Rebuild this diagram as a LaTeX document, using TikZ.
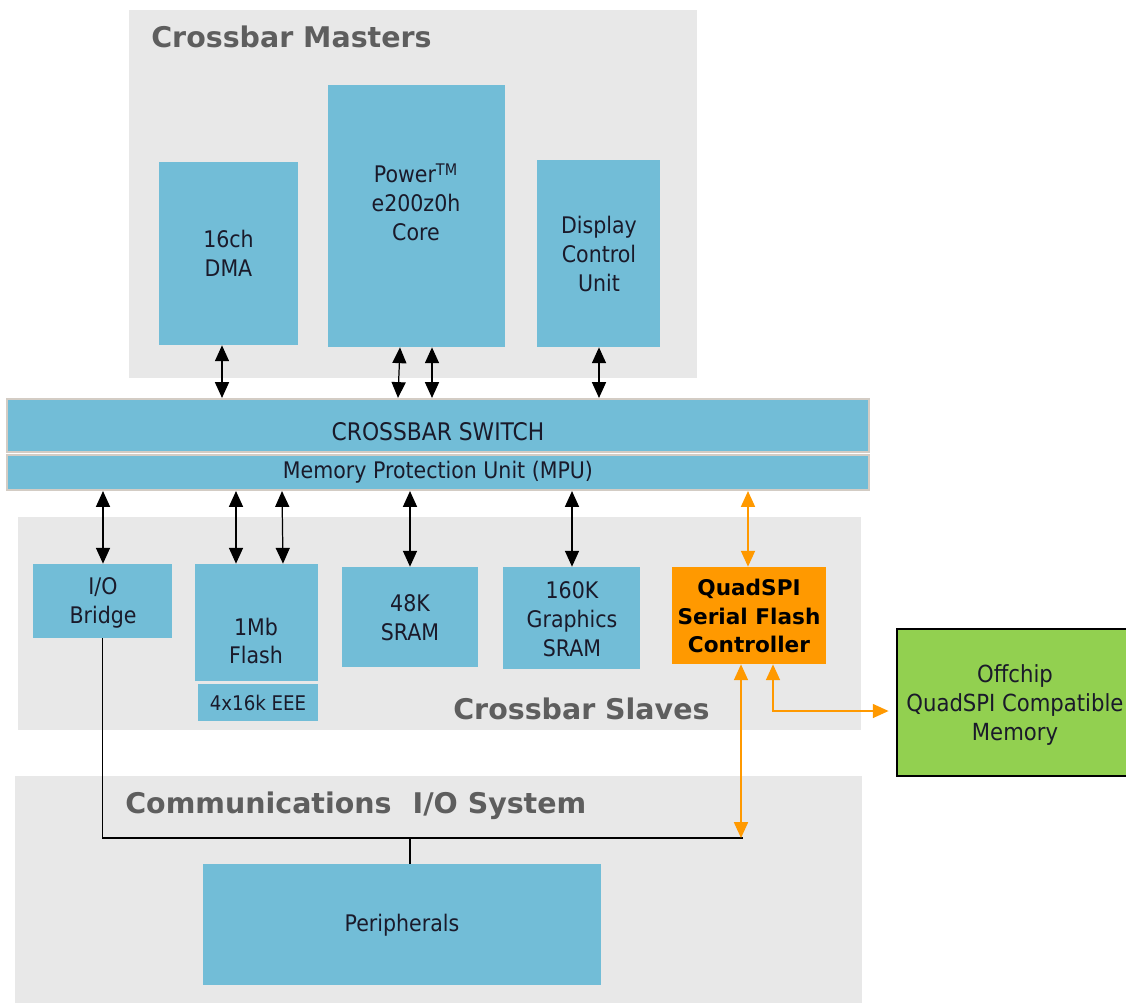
\documentclass[tikz,border=0pt]{standalone}
\usepackage{fontspec}
\setmainfont{DejaVu Sans Condensed}
\newfontfamily\titlefont{DejaVu Sans Bold}
\usetikzlibrary{arrows.meta,fit}
\definecolor{blubox}{HTML}{72BDD7}
\definecolor{regbg}{HTML}{E8E8E8}
\definecolor{titlegray}{HTML}{5E5E5E}
\definecolor{orng}{HTML}{FF9900}
\definecolor{grn}{HTML}{92D050}
\definecolor{txt}{HTML}{1A1A2A}
\definecolor{xbord}{HTML}{D3CCC4}
\tikzset{
  x=0.02cm, y=-0.02cm,
  region/.style={fill=regbg, draw=none, inner sep=0pt},
  blu/.style={fill=blubox, draw=none, inner sep=0pt, align=center, text=txt,
    font=\fontsize{13}{16.4}\selectfont},
  xbarbox/.style={blu, draw=xbord, line width=1.2pt},
  plain/.style={inner sep=0pt, align=center, text=txt, font=\fontsize{13}{16.4}\selectfont},
  ttl/.style={inner sep=0pt, text=titlegray, font=\titlefont\fontsize{16.2}{19}\selectfont},
  dbl/.style={draw=black, line width=0.7pt,
    {Triangle[length=9pt,width=8pt]}-{Triangle[length=9pt,width=8pt]}},
  odbl/.style={draw=orng, line width=0.8pt,
    {Triangle[length=9pt,width=8pt]}-{Triangle[length=9pt,width=8pt]}},
  bus/.style={draw=black, line width=0.7pt},
}
\begin{document}
\begin{tikzpicture}
\useasboundingbox (0,0) rectangle (1126,1002);
% regions
\node[region, fit={(129,10)(697,378)}] (masters) {};
\node[region, fit={(18,517)(861,730)}] (slaves) {};
\node[region, fit={(15,776)(862,1010)}] (comm) {};
\node[ttl, anchor=base west] (tmasters) at (151,47) {Crossbar Masters};
\node[ttl, anchor=base west] (tslaves) at (453,719) {Crossbar Slaves};
\node[ttl, anchor=base west] (tcomm) at (125,813) {Communications\hspace{12pt}I/O System};
% masters
\node[blu, fit={(159,162)(298,345)}] (dma) {};
\node[plain] (dmat) at (dma.center) {16ch\\DMA};
\node[blu, fit={(328,85)(505,347)}] (core) {};
\node[plain] (coret) at (416,202) {Power\textsuperscript{TM}\\e200z0h\\Core};
\node[blu, fit={(537,160)(660,347)}] (disp) {};
\node[plain] (dispt) at (599,254) {Display\\Control\\Unit};
% crossbar
\node[xbarbox, fit={(7,399)(869,452)}] (xbar) {};
\node[plain, font=\fontsize{13.8}{16.4}\selectfont] (xbart) at (438,432) {CROSSBAR SWITCH};
\node[xbarbox, fit={(7,455)(869,490)}] (mpu) {};
\node[plain] (mput) at (438,472) {Memory Protection Unit (MPU)};
% slaves
\node[blu, fit={(33,564)(172,638)}] (iob) {};
\node[plain] (iobt) at (103,603) {I/O\\Bridge};
\node[blu, fit={(195,564)(318,681)}] (flash) {};
\node[plain] (flasht) at (256,641) {1Mb\\Flash};
\node[blu, fit={(198,684)(318,721)}] (eee) {};
\node[plain, font=\fontsize{11.5}{14}\selectfont] (eeet) at (258,703) {4x16k EEE};
\node[blu, fit={(342,567)(478,667)}] (sram) {};
\node[plain] (sramt) at (410,618) {48K\\SRAM};
\node[blu, fit={(503,567)(640,669)}] (gsram) {};
\node[plain] (gsramt) at (572,619) {160K\\Graphics\\SRAM};
\node[fill=orng, inner sep=0pt, fit={(672,567)(826,664)}] (qspi) {};
\node[inner sep=0pt, align=center, text=black,
  font=\titlefont\fontsize{12.3}{16.4}\selectfont] (qspit) at (749,616) {QuadSPI\\Serial Flash\\Controller};
\node[fill=grn, draw=black, line width=1.6pt, inner sep=0pt, fit={(897,629)(1135,776)}] (offc) {};
\node[plain, font=\fontsize{13.4}{16.4}\selectfont] (offct) at (1015,705) {Offchip\\QuadSPI Compatible\\Memory};
% comm
\node[blu, fit={(203,864)(601,985)}] (periph) {};
\node[plain] (periphtt) at (402,925) {Peripherals};
% master arrows
\draw[dbl] (222,0 |- dma.south) -- (222,0 |- xbar.north);
\draw[dbl] (400,0 |- core.south) -- (398,0 |- xbar.north);
\draw[dbl] (432,0 |- core.south) -- (432,0 |- xbar.north);
\draw[dbl] (599,0 |- disp.south) -- (599,0 |- xbar.north);
% slave arrows
\draw[dbl] (103,0 |- mpu.south) -- (103,0 |- iob.north);
\draw[dbl] (236,0 |- mpu.south) -- (236,0 |- flash.north);
\draw[dbl] (282,0 |- mpu.south) -- (283,0 |- flash.north);
\draw[dbl] (410,0 |- mpu.south) -- (410,0 |- sram.north);
\draw[dbl] (572,0 |- mpu.south) -- (572,0 |- gsram.north);
\draw[odbl] (748,0 |- mpu.south) -- (748,0 |- qspi.north);
% buses
\coordinate (busr) at (743,838);
\coordinate (busm) at (410,838);
\draw[bus] (iob.south) |- (busr);
\draw[bus] (busm) -- (busm |- periph.north);
\draw[odbl] (741,0 |- qspi.south) -- (741,0 |- busr);
\draw[odbl] (773,0 |- qspi.south) |- ([xshift=-4pt]offc.west |- 0,711);
\end{tikzpicture}
\end{document}
